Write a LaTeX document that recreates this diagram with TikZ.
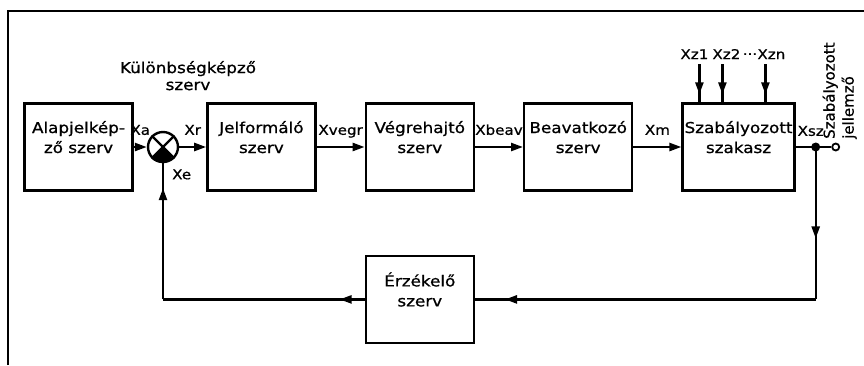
\documentclass[tikz,border=0pt]{standalone}
\usepackage{fontspec}
\setmainfont{DejaVu Sans}[FakeStretch=1.12, FakeBold=0.8]
\newfontfamily\vertfont{DejaVu Sans}[FakeBold=0.8]
\usepackage{tikz}
\usetikzlibrary{arrows.meta, positioning, decorations.markings}

\newcommand{\boxfont}{\fontsize{15}{20}\selectfont}
\newcommand{\lblfont}{\fontsize{13.5}{15}\selectfont}

\begin{document}
\begin{tikzpicture}[
  x = 1pt, y = 1pt,
  node distance = 48pt,
  font = \boxfont,
  ln/.style = {line width=2.4pt},
  blok/.style = {rectangle, draw, ln, align=center,
                 minimum width=108pt, minimum height=87pt, inner sep=2pt},
  lbl/.style = {font=\lblfont, inner sep=1pt, text depth=0pt},
  arr/.style = {-{Triangle[length=12pt, width=8pt]}, ln},
  midarr/.style = {ln, postaction={decorate},
                   decoration={markings, mark=at position #1 with {\arrow{Triangle[length=12pt, width=8pt]}}}},
  outlet/.style = {circle, draw, line width=1.8pt, fill=white,
                   inner sep=0pt, minimum size=7pt},
]
\useasboundingbox (0,0) rectangle (864,-365);
% frame
\draw[ln] (8,-365) -- (8,-11) -- (864,-11);

% forward path
\node[blok] (alap) at (78.5,-147) {Alapjelkép-\\ző szerv\\\mbox{}};
\node[circle, draw, ln, minimum size=30pt, inner sep=0pt] (sum) at (163,-147) {};
\draw[ln] (sum.north west) -- (sum.south east);
\draw[ln] (sum.north east) -- (sum.south west);
\fill (sum.center) -- (sum.south west) arc[start angle=225, end angle=315, radius=15pt] -- cycle;
\node[align=center, font=\fontsize{15}{17}\selectfont, above=37pt of sum, xshift=25pt] (kul) {Különbségképző\\szerv};

\node[blok, right=27pt of sum] (jel) {Jelformáló\\szerv\\\mbox{}};
\node[blok, right=of jel] (vegre) {Végrehajtó\\szerv\\\mbox{}};
\node[blok, right=of vegre] (beav) {Beavatkozó\\szerv\\\mbox{}};
\node[blok, right=of beav] (szab) {Szabályozott\\szakasz\\\mbox{}};
\node[blok, below=63pt of vegre] (erz) {Érzékelő\\szerv\\\mbox{}};

\coordinate[right=20pt of szab] (jn);
\node[outlet] (out) at ([xshift=20pt]jn) {};
\node[rotate=90, align=left, anchor=west, inner sep=0pt,
      font=\vertfont\fontsize{15}{19}\selectfont] (jell) at ([xshift=4pt, yshift=8pt]out) {Szabályozott\\jellemző};

\draw[arr] (alap) -- node[lbl, above=10pt] {Xa} (sum);
\draw[arr] (sum) -- node[lbl, above=10pt] {Xr} (jel);
\draw[arr] (jel) -- node[lbl, above=10pt] {Xvegr} (vegre);
\draw[arr] (vegre) -- node[lbl, above=10pt] {Xbeav} (beav);
\draw[arr] (beav) -- node[lbl, above=10pt] {Xm} (szab);
\draw[ln] (szab) -- (jn) -- (out);
\fill (jn) circle (4.5pt);
\node[lbl, above=10pt of jn, xshift=-5pt] (xsz) {Xsz};
\node[lbl, anchor=north west] (xe) at ([xshift=8pt, yshift=-5pt]sum.south) {Xe};

% disturbances
\coordinate (d1) at ([xshift=18pt, yshift=38pt]szab.north west);
\coordinate (d2) at ([xshift=41pt, yshift=38pt]szab.north west);
\coordinate (dn) at ([xshift=84pt, yshift=38pt]szab.north west);
\node[lbl, above=4pt of d1, xshift=-5pt] (z1) {Xz1};
\node[lbl, above=4pt of d2, xshift=4pt] (z2) {Xz2};
\node[lbl, above=4pt of dn, xshift=6pt] (zn) {Xzn};
\node[lbl, right=0pt of z2] (dots) {...};
\draw[midarr=-8pt] (d1) -- (d1 |- szab.north);
\draw[midarr=-8pt] (d2) -- (d2 |- szab.north);
\draw[midarr=-8pt] (dn) -- (dn |- szab.north);

% feedback
\coordinate (fbr) at (jn |- erz);
\coordinate (fbl) at (sum |- erz);
\draw[midarr=0.6] (jn) -- (fbr);
\draw[midarr=-30pt] (fbr) -- (erz);
\draw[midarr=25pt] (erz) -- (fbl);
\draw[midarr=-25pt] (fbl) -- (sum);
\end{tikzpicture}
\end{document}
